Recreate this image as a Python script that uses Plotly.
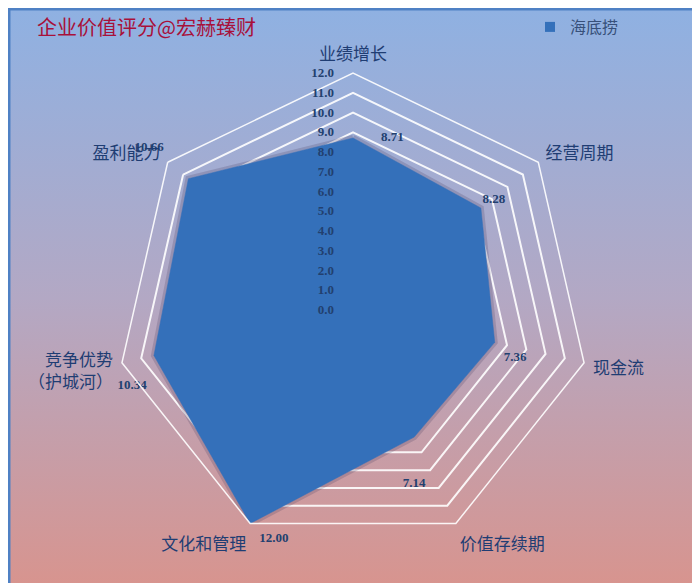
import base64
import plotly.graph_objects as go

# ---- data ----
categories = ["业绩增长", "经营周期", "现金流", "价值存续期", "文化和管理", "竞争优势<br>（护城河）", "盈利能力"]
values = [8.71, 8.28, 7.36, 7.14, 12.00, 10.34, 10.66]
series_name = "海底捞"
radial_ticks = [float(i) for i in range(0, 13)]
title_text = "企业价值评分@宏赫臻财"

# label placement styling (text offsets via invisible marker sizes)
label_positions = ["middle right", "top right", "bottom right", "bottom center",
                   "bottom right", "bottom left", "top left"]
label_offsets = [43, 1, 13, 62, 13, 10, 38]
label_prefix = ["", "", "", "", "", "<br>", ""]

W, H = 700, 583

svg = f"""<svg xmlns='http://www.w3.org/2000/svg' width='{W}' height='{H}' viewBox='0 0 {W} {H}' preserveAspectRatio='none'>
<defs><linearGradient id='g' x1='0' y1='0' x2='0' y2='1'>
<stop offset='0' stop-color='#8FB1E2'/>
<stop offset='0.5' stop-color='#B3A8C4'/>
<stop offset='1' stop-color='#D8948E'/>
</linearGradient></defs>
<rect x='0' y='0' width='{W}' height='{H}' fill='#4F81C4'/>
<rect x='2.5' y='2.5' width='{W-5}' height='{H-6}' fill='url(#g)'/>
</svg>"""
bg_uri = "data:image/svg+xml;base64," + base64.b64encode(svg.encode("utf-8")).decode("ascii")

theta_closed = categories + [categories[0]]
values_closed = values + [values[0]]

fig = go.Figure()

# soft shadow halo around the filled area
fig.add_trace(go.Scatterpolar(
    r=values_closed, theta=theta_closed,
    mode="lines",
    line=dict(color="rgba(70,60,95,0.22)", width=6),
    showlegend=False, hoverinfo="skip",
))

fig.add_trace(go.Scatterpolar(
    r=values_closed, theta=theta_closed,
    mode="lines", fill="toself",
    fillcolor="#3470BA",
    line=dict(color="#3470BA", width=0.5),
    showlegend=False, hoverinfo="skip",
))

fig.add_trace(go.Scatterpolar(
    r=values, theta=categories,
    mode="markers+text",
    marker=dict(size=label_offsets, color="rgba(0,0,0,0)", opacity=0,
                line=dict(width=0)),
    text=[p + f"{v:.2f}" for p, v in zip(label_prefix, values)],
    textposition=label_positions,
    textfont=dict(family="Liberation Serif", size=13, color="#22406F", weight="bold"),
    showlegend=False, hoverinfo="skip",
))

fig.add_trace(go.Scatterpolar(
    r=[None], theta=[categories[0]],
    mode="markers", name=series_name,
    marker=dict(symbol="square", size=10, color="#3470BA"),
    showlegend=True,
))

dx, dy = -8, 3  # px correction of polar placement
fig.update_layout(
    width=W, height=H,
    margin=dict(l=0, r=0, t=0, b=0),
    paper_bgcolor="white",
    images=[dict(source=bg_uri, xref="paper", yref="paper", x=0, y=1,
                 sizex=1, sizey=1, xanchor="left", yanchor="top",
                 sizing="stretch", layer="below")],
    title=dict(text=title_text, x=29 / W, xanchor="left", y=1 - 20 / H, yanchor="middle",
               font=dict(family="Noto Sans CJK SC", size=20, color="#A8103A")),
    legend=dict(x=522 / W, y=1 - 2 / H, xanchor="left", yanchor="top",
                bgcolor="rgba(0,0,0,0)", itemwidth=30,
                font=dict(family="Noto Sans CJK SC", size=16, color="#37507A")),
    polar=dict(
        domain=dict(x=[(116 + dx) / W, (590 + dx) / W], y=[(41 + dy) / H, (515 + dy) / H]),
        bgcolor="rgba(0,0,0,0)",
        gridshape="linear",
        radialaxis=dict(
            range=[0, 12], tickvals=radial_ticks, tickformat=".1f",
            angle=90, tickangle=90, side="counterclockwise",
            showline=False, ticks="outside", ticklen=14, tickcolor="rgba(0,0,0,0)",
            gridcolor="rgba(255,255,255,0.9)", gridwidth=1.5,
            tickfont=dict(family="Liberation Serif", size=13, color="#22406F", weight="bold"),
        ),
        angularaxis=dict(
            direction="clockwise", rotation=90,
            showgrid=False, showline=True, linecolor="rgba(255,255,255,0.9)", linewidth=1.5,
            ticks="outside", ticklen=5, tickcolor="rgba(0,0,0,0)",
            tickfont=dict(family="Noto Sans CJK SC", size=17, color="#1F3D73"),
        ),
    ),
)

fig.write_html("out.html")
